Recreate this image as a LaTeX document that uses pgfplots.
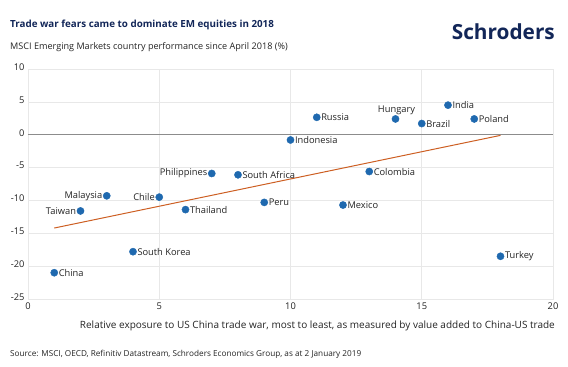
\documentclass[border=0pt]{standalone}
\usepackage{pgfplots}
\usepackage{pgfplotstable}
\pgfplotsset{compat=1.18}
\usetikzlibrary{calc}
\usepackage{fontspec}
\setmainfont{Open Sans}
\definecolor{dotblue}{RGB}{31,105,175}
\definecolor{trend}{RGB}{205,95,35}
\definecolor{navy}{RGB}{18,38,88}
\definecolor{txt}{RGB}{35,35,35}
\pgfplotstableread{
x y label
1 -21.0 China
4 -17.8 {South Korea}
6 -11.4 Thailand
8 -6.1 {South Africa}
9 -10.3 Peru
10 -0.8 Indonesia
11 2.65 Russia
12 -10.7 Mexico
13 -5.6 Colombia
15 1.7 Brazil
16 4.5 India
17 2.4 Poland
18 -18.5 Turkey
}\rightpts
\pgfplotstableread{
x y label
2 -11.6 Taiwan
3 -9.3 Malaysia
5 -9.5 Chile
7 -5.9 Philippines
}\leftpts
\pgfplotstableread{
x y label
14 2.4 Hungary
}\toppts
\begin{document}
\begin{tikzpicture}
\begin{axis}[
  name=ax,
  at={(0,0)}, anchor=south west,
  scale only axis, width=525pt, height=230pt,
  xmin=0, xmax=20, ymin=-25, ymax=10,
  xtick={0,5,...,20}, ytick={-25,-20,...,10},
  grid=major, major grid style={draw=black!9, line width=0.6pt},
  axis line style={draw=black!9},
  tick style={draw=none},
  /pgf/number format/assume math mode=true,
  ticklabel style={font=\fontsize{9.3}{10}\selectfont, text=txt},
  yticklabel style={xshift=0pt, yshift=2pt},
  xticklabel style={yshift=0pt},
  clip=false,
]
\addplot[black!45, line width=0.8pt, forget plot] coordinates {(0,0) (20,0)};
\addplot[trend, line width=1pt] coordinates {(1,-14.2) (18,-0.1)};
\addplot[only marks, mark=*, mark size=3.6pt, mark options={fill=dotblue, draw=dotblue},
  point meta=explicit symbolic, nodes near coords,
  nodes near coords style={anchor=west, font=\fontsize{9.3}{10}\selectfont, text=txt, inner sep=0pt, xshift=4.3pt}]
  table[meta=label] {\rightpts};
\addplot[only marks, mark=*, mark size=3.6pt, mark options={fill=dotblue, draw=dotblue},
  point meta=explicit symbolic, nodes near coords,
  nodes near coords style={anchor=east, font=\fontsize{9.3}{10}\selectfont, text=txt, inner sep=0pt, xshift=-4.3pt}]
  table[meta=label] {\leftpts};
\addplot[only marks, mark=*, mark size=3.6pt, mark options={fill=dotblue, draw=dotblue},
  point meta=explicit symbolic, nodes near coords,
  nodes near coords style={anchor=south, font=\fontsize{9.3}{10}\selectfont, text=txt, inner sep=0pt, yshift=4.5pt, xshift=1pt}]
  table[meta=label] {\toppts};
\end{axis}
\coordinate (O) at (ax.south west);
\node[anchor=west,font=\bfseries\fontsize{9.8}{11}\selectfont,text=navy,inner sep=0] at ($(O)+(-18pt,274pt)$) {Trade war fears came to dominate EM equities in 2018};
\node[anchor=west,font=\fontsize{9.1}{10}\selectfont,text=txt,inner sep=0] at ($(O)+(-18pt,252pt)$) {MSCI Emerging Markets country performance since April 2018 (\%)};
\node[anchor=east,font=\bfseries\fontsize{20.8}{22}\selectfont,text=navy,inner sep=0] at ($(O)+(527pt,267pt)$) {Schroders};
\node[anchor=east,font=\fontsize{10}{11}\selectfont,text=txt,inner sep=0] at ($(O)+(527pt,-27pt)$) {Relative exposure to US China trade war, most to least, as measured by value added to China-US trade};
\node[anchor=west,font=\fontsize{8.2}{9}\selectfont,text=txt,inner sep=0] at ($(O)+(-18pt,-55pt)$) {Source: MSCI, OECD, Refinitiv Datastream, Schroders Economics Group, as at 2 January 2019};
\pgfresetboundingbox
\path[use as bounding box] ($(O)+(-28pt,-68pt)$) rectangle ($(O)+(540pt,299pt)$);
\end{tikzpicture}
\end{document}
